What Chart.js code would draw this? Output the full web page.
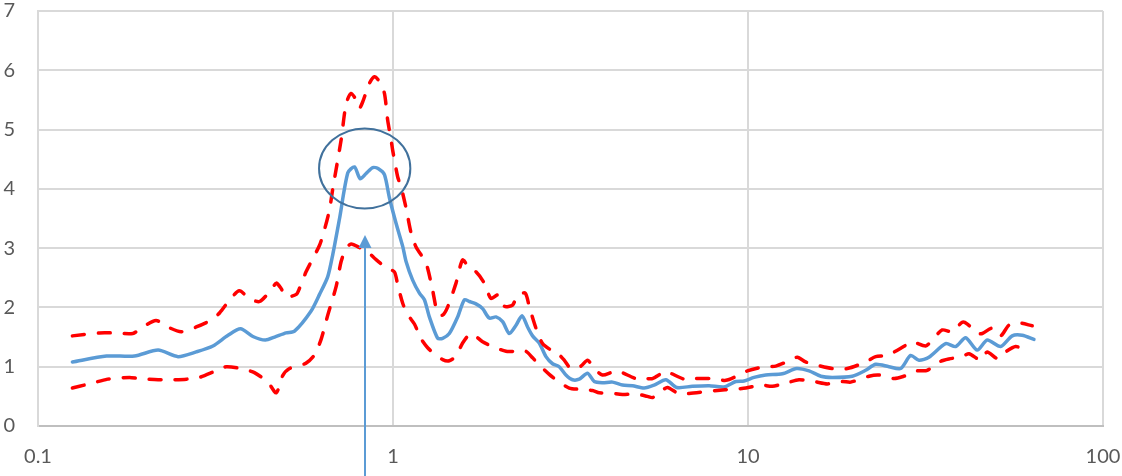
<!DOCTYPE html>
<html>
<head>
<meta charset="utf-8">
<script src="https://cdn.jsdelivr.net/npm/chart.js@4.4.1/dist/chart.umd.min.js"></script>
<style>
  html, body { margin: 0; padding: 0; background: #ffffff; overflow: hidden; }
  #chart { display: block; }
</style>
</head>
<body>
<canvas id="chart" width="1122" height="476"></canvas>
<script>
// Frequency (Hz) and amplitude values for each curve
const freqMedian = [0.125, 0.156, 0.187, 0.218, 0.248, 0.279, 0.311, 0.343, 0.372, 0.403, 0.437, 0.464, 0.50, 0.528, 0.588, 0.621, 0.655, 0.677, 0.707, 0.746, 0.779, 0.808, 0.840, 0.877, 0.910, 0.946, 0.977, 1.020, 1.065, 1.089, 1.136, 1.187, 1.226, 1.266, 1.336, 1.380, 1.441, 1.521, 1.589, 1.641, 1.713, 1.788, 1.867, 1.951, 2.036, 2.126, 2.221, 2.309, 2.394, 2.473, 2.582, 2.697, 2.815, 2.939, 3.070, 3.204, 3.347, 3.532, 3.689, 3.891, 4.154, 4.43, 4.727, 5.10, 5.442, 5.87, 6.30, 6.97, 7.77, 8.565, 9.24, 9.75, 10.40, 11.22, 12.50, 13.70, 14.86, 16.03, 17.28, 19.67, 21.45, 22.89, 24.95, 26.92, 28.72, 30.31, 32.33, 36.03, 38.45, 41.03, 44.23, 47.2, 51.46, 55.49, 59.21, 63.9];
const median = [1.08, 1.18, 1.18, 1.28, 1.17, 1.25, 1.35, 1.53, 1.64, 1.51, 1.45, 1.50, 1.57, 1.60, 1.94, 2.22, 2.52, 2.90, 3.50, 4.27, 4.37, 4.17, 4.26, 4.36, 4.34, 4.24, 3.85, 3.42, 3.03, 2.77, 2.46, 2.24, 2.13, 1.84, 1.48, 1.48, 1.56, 1.84, 2.13, 2.10, 2.06, 1.98, 1.82, 1.84, 1.76, 1.56, 1.70, 1.86, 1.67, 1.52, 1.40, 1.17, 1.05, 1.00, 0.86, 0.78, 0.79, 0.89, 0.75, 0.73, 0.74, 0.69, 0.68, 0.64, 0.69, 0.78, 0.65, 0.67, 0.68, 0.66, 0.75, 0.76, 0.82, 0.86, 0.88, 0.97, 0.93, 0.84, 0.82, 0.84, 0.94, 1.04, 1.00, 0.97, 1.19, 1.11, 1.16, 1.39, 1.34, 1.49, 1.28, 1.45, 1.34, 1.52, 1.53, 1.46];

const freqUpper = [0.125, 0.149, 0.163, 0.185, 0.195, 0.215, 0.232, 0.253, 0.279, 0.308, 0.325, 0.346, 0.369, 0.394, 0.421, 0.454, 0.469, 0.484, 0.50, 0.534, 0.545, 0.569, 0.621, 0.641, 0.662, 0.677, 0.714, 0.738, 0.762, 0.787, 0.804, 0.822, 0.858, 0.887, 0.916, 0.946, 0.966, 0.988, 0.998, 1.031, 1.054, 1.089, 1.125, 1.161, 1.226, 1.252, 1.293, 1.336, 1.380, 1.426, 1.505, 1.571, 1.641, 1.713, 1.808, 1.888, 1.971, 2.058, 2.172, 2.244, 2.359, 2.421, 2.528, 2.638, 2.786, 2.939, 3.036, 3.171, 3.384, 3.532, 3.689, 3.891, 4.154, 4.338, 4.832, 5.157, 5.383, 5.682, 5.87, 6.61, 7.13, 8.025, 8.66, 9.44, 9.96, 11.10, 11.97, 13.05, 13.77, 14.54, 15.52, 17.28, 19.05, 21.45, 22.89, 24.68, 27.8, 29.02, 31.65, 33.04, 35.25, 37.6, 40.13, 41.5, 44.23, 45.69, 48.75, 51.46, 54.31, 57.96, 63.19];
const upper = [1.52, 1.57, 1.57, 1.56, 1.65, 1.78, 1.67, 1.59, 1.67, 1.79, 1.91, 2.12, 2.28, 2.15, 2.10, 2.30, 2.41, 2.32, 2.18, 2.22, 2.32, 2.60, 3.05, 3.31, 3.64, 4.01, 4.82, 5.44, 5.61, 5.50, 5.36, 5.47, 5.78, 5.89, 5.81, 5.61, 5.16, 4.82, 4.65, 4.20, 4.03, 3.67, 3.25, 3.02, 2.80, 2.66, 2.29, 1.90, 1.87, 2.01, 2.41, 2.80, 2.66, 2.60, 2.41, 2.15, 2.21, 2.02, 2.04, 2.21, 2.24, 2.01, 1.65, 1.39, 1.28, 1.20, 1.11, 0.97, 1.01, 1.11, 0.97, 0.86, 0.91, 0.92, 0.80, 0.80, 0.80, 0.88, 0.92, 0.79, 0.80, 0.80, 0.77, 0.86, 0.93, 1.00, 1.01, 1.10, 1.16, 1.08, 1.03, 0.97, 0.97, 1.08, 1.17, 1.19, 1.36, 1.42, 1.35, 1.45, 1.62, 1.59, 1.75, 1.72, 1.56, 1.56, 1.65, 1.52, 1.70, 1.74, 1.69];

const freqLower = [0.125, 0.137, 0.157, 0.163, 0.181, 0.193, 0.218, 0.240, 0.262, 0.285, 0.314, 0.339, 0.378, 0.407, 0.444, 0.469, 0.489, 0.511, 0.569, 0.601, 0.628, 0.655, 0.692, 0.714, 0.738, 0.762, 0.804, 0.858, 0.887, 0.956, 1.009, 1.031, 1.065, 1.100, 1.149, 1.200, 1.252, 1.307, 1.380, 1.441, 1.505, 1.571, 1.659, 1.788, 1.908, 2.081, 2.221, 2.369, 2.473, 2.582, 2.755, 2.907, 3.136, 3.347, 3.648, 3.809, 4.066, 4.43, 4.83, 5.21, 5.383, 5.682, 5.93, 6.397, 6.826, 7.607, 8.2, 9.04, 9.86, 10.86, 11.71, 12.91, 13.92, 15.35, 16.73, 18.44, 19.47, 21.92, 23.39, 25.77, 27.5, 29.98, 31.98, 34.88, 36.81, 40.13, 41.92, 45.23, 47.2, 50.35, 53.16, 56.73, 60.54];
const lower = [0.64, 0.70, 0.79, 0.80, 0.82, 0.80, 0.78, 0.78, 0.79, 0.82, 0.92, 1.00, 0.96, 0.90, 0.74, 0.56, 0.85, 0.97, 1.06, 1.20, 1.47, 1.87, 2.36, 2.77, 3.00, 3.07, 3.01, 2.91, 2.83, 2.67, 2.60, 2.38, 2.07, 1.88, 1.72, 1.47, 1.32, 1.22, 1.12, 1.10, 1.18, 1.40, 1.56, 1.42, 1.34, 1.26, 1.26, 1.26, 1.15, 1.03, 0.87, 0.76, 0.64, 0.62, 0.60, 0.56, 0.56, 0.53, 0.54, 0.50, 0.48, 0.58, 0.65, 0.54, 0.55, 0.58, 0.60, 0.62, 0.64, 0.69, 0.67, 0.73, 0.78, 0.75, 0.71, 0.75, 0.74, 0.84, 0.86, 0.80, 0.84, 0.93, 0.94, 1.09, 1.13, 1.17, 1.22, 1.11, 1.25, 1.14, 1.25, 1.34, 1.28];

// Axis ticks
const xTicks = [0.1, 1, 10, 100];
const yTicks = [0, 1, 2, 3, 4, 5, 6, 7];

// Peak marker: ellipse around the resonance peak and the arrow pointing at it
const peakEllipse = { xMin: 0.619, xMax: 1.119, yMin: 3.67, yMax: 5.02 };
const peakArrow = { x: 0.834, yTip: 3.22 };

const pts = (xs, ys) => xs.map((x, i) => ({ x: x, y: ys[i] }));

const markerPlugin = {
  id: 'peakMarker',
  afterDatasetsDraw(chart) {
    const ctx = chart.ctx;
    const xs = chart.scales.x, ys = chart.scales.y;
    // ellipse
    const x1 = xs.getPixelForValue(peakEllipse.xMin);
    const x2 = xs.getPixelForValue(peakEllipse.xMax);
    const y1 = ys.getPixelForValue(peakEllipse.yMax);
    const y2 = ys.getPixelForValue(peakEllipse.yMin);
    ctx.save();
    ctx.beginPath();
    ctx.ellipse((x1 + x2) / 2, (y1 + y2) / 2, (x2 - x1) / 2, (y2 - y1) / 2, 0, 0, Math.PI * 2);
    ctx.strokeStyle = '#41719C';
    ctx.lineWidth = 2;
    ctx.stroke();
    // arrow
    const ax = xs.getPixelForValue(peakArrow.x);
    const tip = ys.getPixelForValue(peakArrow.yTip);
    const head = 13, halfW = 6.5;
    ctx.beginPath();
    ctx.moveTo(ax, chart.height);
    ctx.lineTo(ax, tip + head - 1);
    ctx.strokeStyle = '#5B9BD5';
    ctx.lineWidth = 2;
    ctx.stroke();
    ctx.beginPath();
    ctx.moveTo(ax, tip);
    ctx.lineTo(ax - halfW, tip + head);
    ctx.lineTo(ax + halfW, tip + head);
    ctx.closePath();
    ctx.fillStyle = '#5B9BD5';
    ctx.fill();
    ctx.restore();
  }
};

const tickFont = { family: 'Lato, "Liberation Sans", sans-serif', size: 20 };

new Chart(document.getElementById('chart'), {
  type: 'line',
  data: {
    datasets: [
      { label: 'Upper', data: pts(freqUpper, upper), borderColor: '#FF0000', borderWidth: 3.5, borderDash: [12, 14], borderCapStyle: 'round', pointRadius: 0, tension: 0.25, fill: false },
      { label: 'Lower', data: pts(freqLower, lower), borderColor: '#FF0000', borderWidth: 3.5, borderDash: [12, 14], borderCapStyle: 'round', pointRadius: 0, tension: 0.25, fill: false },
      { label: 'Median', data: pts(freqMedian, median), borderColor: '#5B9BD5', borderWidth: 3.5, borderJoinStyle: 'round', borderCapStyle: 'round', pointRadius: 0, tension: 0.25, fill: false }
    ]
  },
  options: {
    responsive: false,
    animation: false,
    devicePixelRatio: 1,
    layout: { padding: { top: 11, right: 19, left: 0, bottom: 0 } },
    plugins: { legend: { display: false }, tooltip: { enabled: false } },
    scales: {
      x: {
        type: 'logarithmic',
        min: 0.1,
        max: 100,
        afterBuildTicks(scale) { scale.ticks = xTicks.map(v => ({ value: v })); },
        afterFit(scale) { scale.height = 50; scale.paddingLeft = 0; scale.paddingRight = 0; },
        ticks: {
          autoSkip: false, maxRotation: 0, padding: 19, color: '#595959', font: tickFont,
          callback: (v) => String(v)
        },
        grid: { color: '#D9D9D9', lineWidth: 2, drawTicks: false },
        border: { color: '#BFBFBF', width: 2 }
      },
      y: {
        min: 0,
        max: 7,
        afterBuildTicks(scale) { scale.ticks = yTicks.map(v => ({ value: v })); },
        afterFit(scale) { scale.width = 38; scale.paddingTop = 0; scale.paddingBottom = 0; },
        ticks: { padding: 23, color: '#595959', font: tickFont },
        grid: { color: '#D9D9D9', lineWidth: 2, drawTicks: false },
        border: { color: '#D9D9D9', width: 2 }
      }
    }
  },
  plugins: [markerPlugin]
});
</script>
</body>
</html>
